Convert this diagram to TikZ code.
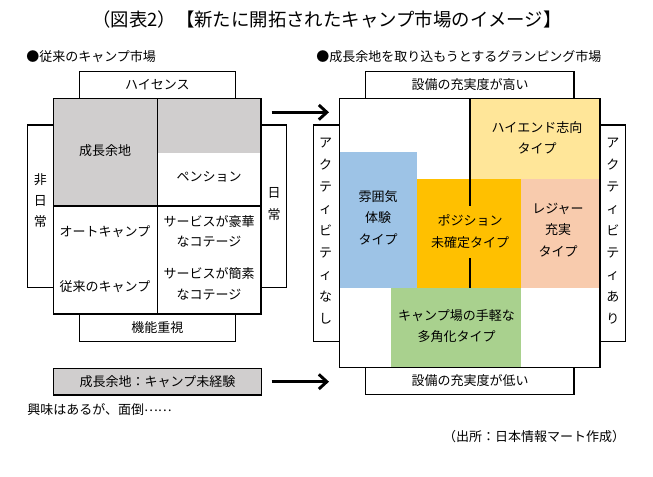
\documentclass[tikz,border=0pt]{standalone}
\usepackage{fontspec}
\setmainfont{Noto Sans CJK JP}
\usetikzlibrary{arrows.meta}
\definecolor{graybox}{HTML}{D0CECE}
\definecolor{cblue}{HTML}{9DC3E6}
\definecolor{cyellow}{HTML}{FFE699}
\definecolor{corange}{HTML}{FFC000}
\definecolor{cpeach}{HTML}{F8CBAD}
\definecolor{cgreen}{HTML}{A9D18E}
\tikzset{
  box/.style={draw=black, line width=0.8pt, fill=white},
  plainline/.style={draw=black, line width=0.8pt},
  txt/.style={font=\fontsize{9.75}{15.5}\selectfont, align=center, inner sep=0pt},
  rtxt/.style={font=\fontsize{9.75}{16}\selectfont, align=center, inner sep=0pt},
  vtxt/.style={font=\fontsize{9.75}{16.5}\selectfont, align=center, inner sep=0pt},
  titletxt/.style={font=\fontsize{13.8}{16}\selectfont, inner sep=0pt},
  arr/.style={line width=2.2pt, -{Straight Barb[length=6pt,width=11pt]}}
}
\begin{document}
\begin{tikzpicture}[x=0.75pt,y=-0.75pt]
\useasboundingbox (0,0) rectangle (653,477);
\fill[white] (0,0) rectangle (653,477);

% title and headers
\node[titletxt] (title) at (327,20) {（図表2）【新たに開拓されたキャンプ市場のイメージ】};
\node[txt, anchor=west] (hdrL) at (26,57) {●従来のキャンプ市場};
\node[txt, anchor=west] (hdrR) at (316,57) {●成長余地を取り込もうとするグランピング市場};

% ---------- left diagram ----------
\draw[box] (79.3,71.7) rectangle (235.5,98.3);
\draw[box] (27.3,125) rectangle (53.3,287.7);
\draw[box] (261,125) rectangle (286.7,287.7);
\draw[box] (79.3,314) rectangle (235.5,341.7);
\fill[white] (53.3,98.3) rectangle (261,314);
\fill[graybox] (53.3,98.3) rectangle (157.3,206);
\fill[graybox] (157.3,98.3) rectangle (261,152.7);
\draw[plainline] (157.3,98.3) -- (157.3,314);
\draw[plainline] (53.3,206) -- (261,206);
\draw[plainline] (53.3,98.3) rectangle (261,314);

\node[txt] (hisense) at (157.4,85) {ハイセンス};
\node[txt] (kino) at (157.4,327.5) {機能重視};
\node[txt] (hinichijo) at (40.3,200.5) {\fontsize{9.75}{14.1}\selectfont 非\\日\\常};
\node[vtxt] (nichijo) at (274,204) {\fontsize{9.75}{16.3}\selectfont 日\\常};
\node[txt] (seicho) at (105,151) {成長余地};
\node[txt] (pension) at (209,177) {ペンション};
\node[txt] (auto) at (105,232) {オートキャンプ};
\node[txt] (jurai) at (105,287) {従来のキャンプ};
\node[txt] (gouka) at (209,231.3) {サービスが豪華\\なコテージ};
\node[txt] (kanso) at (209,284) {サービスが簡素\\なコテージ};

% gray legend box
\draw[line width=0.8pt, fill=graybox] (53.3,368.3) rectangle (261.7,395);
\node[txt] (legend) at (157.5,381.7) {成長余地：キャンプ未経験};
\node[txt, anchor=west] (kyomi) at (27,410) {興味はあるが、面倒\raisebox{0.3em}{……}};

% arrows
\coordinate (a1s) at (271.7,112.3);
\coordinate (a1e) at (329,112.3);
\coordinate (a2s) at (271.7,381.7);
\coordinate (a2e) at (329,381.7);
\draw[arr] (a1s) -- (a1e);
\draw[arr] (a2s) -- (a2e);

% ---------- right diagram ----------
\draw[box] (365.7,71.7) rectangle (574,98.3);
\draw[box] (313.3,125) rectangle (339.3,341.7);
\draw[box] (600,125) rectangle (625.7,341.7);
\draw[box] (365.7,367.7) rectangle (574,394.3);
\fill[white] (339.3,98.3) rectangle (600,367.7);
\fill[cyellow] (470,98.3) rectangle (600,179);
\fill[cblue] (339.3,152.3) rectangle (417.3,287.7);
\fill[corange] (417.3,179) rectangle (521,287.7);
\fill[cpeach] (521,179) rectangle (600,287.7);
\fill[cgreen] (391,287.7) rectangle (521,367.7);
\draw[plainline] (470,98.3) -- (470,287.7);
\draw[plainline] (339.3,98.3) rectangle (600,367.7);

\node[txt] (takai) at (470,85) {設備の充実度が高い};
\node[txt] (hikui) at (470,381) {設備の充実度が低い};
\node[vtxt] (nashi) at (325.5,231.5) {ア\\ク\\テ\\ィ\\ビ\\テ\\ィ\\な\\し};
\node[vtxt] (ari) at (612.8,231.5) {ア\\ク\\テ\\ィ\\ビ\\テ\\ィ\\あ\\り};
\node[rtxt] (highend) at (537,138) {\fontsize{9.75}{14.5}\selectfont ハイエンド志向\\タイプ};
\node[rtxt] (fun) at (378,217.5) {雰囲気\\体験\\タイプ};
\node[rtxt, fill=corange, inner xsep=3pt, inner ysep=7pt] (pos) at (470,231.7) {ポジション\\未確定タイプ};
\node[rtxt] (leisure) at (558,230) {レジャー\\充実\\タイプ};
\node[rtxt] (tagaru) at (456.5,326) {キャンプ場の手軽な\\多角化タイプ};

\node[txt] (source) at (534,437) {（出所：日本情報マート作成）};
\end{tikzpicture}
\end{document}
